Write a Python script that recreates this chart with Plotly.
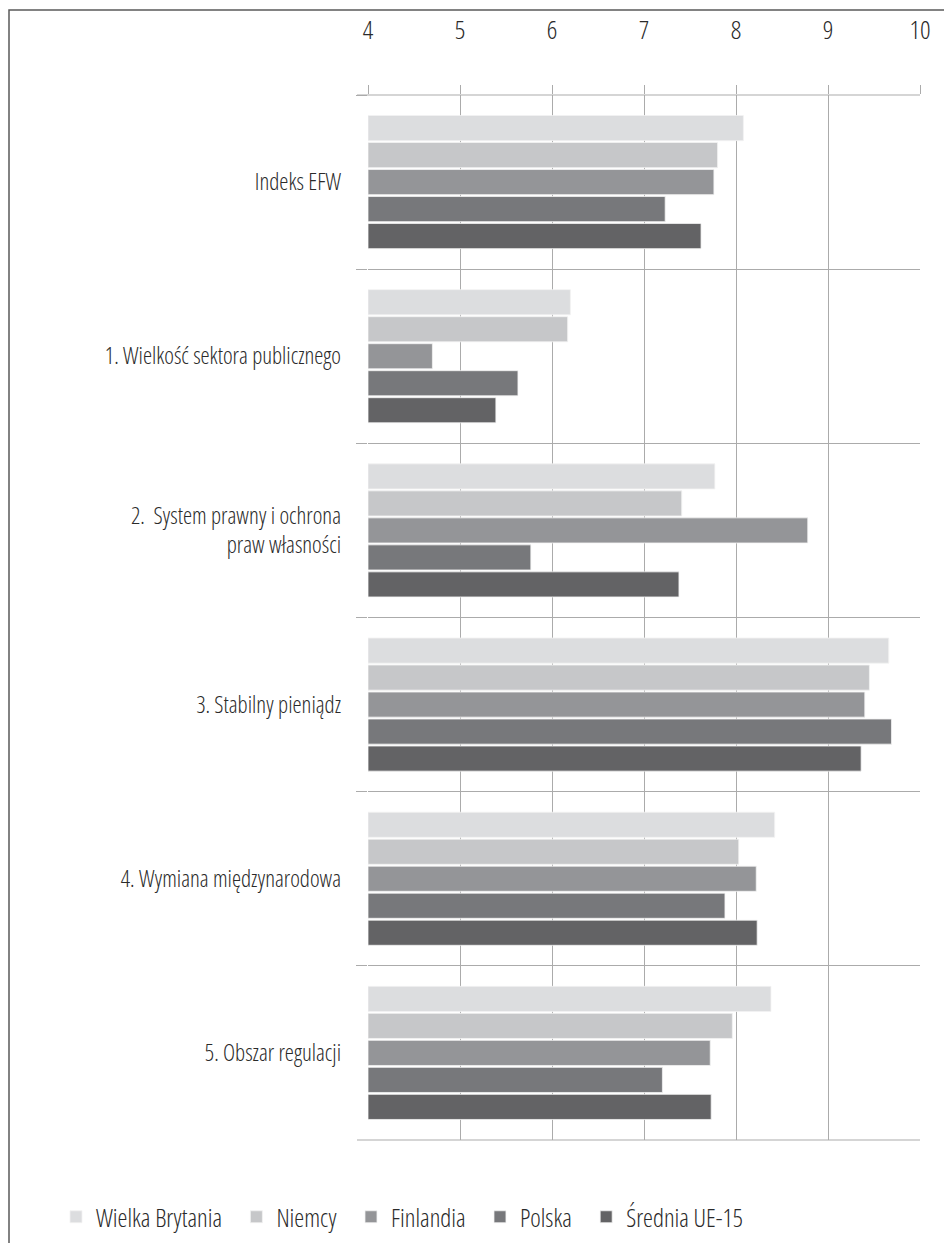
import plotly.graph_objects as go

# Categories (top to bottom) and series values
categories = [
    "Indeks EFW",
    "1. Wielkość sektora publicznego",
    "2.\u00a0 System prawny i ochrona<br>praw własności",
    "3. Stabilny pieniądz",
    "4. Wymiana międzynarodowa",
    "5. Obszar regulacji",
]
series_names = ["Wielka Brytania", "Niemcy", "Finlandia", "Polska", "Średnia UE-15"]
wielka_brytania = [8.08, 6.20, 7.77, 9.66, 8.42, 8.38]
niemcy = [7.80, 6.17, 7.41, 9.45, 8.03, 7.96]
finlandia = [7.76, 4.70, 8.78, 9.40, 8.22, 7.72]
polska = [7.23, 5.63, 5.77, 9.69, 7.88, 7.20]
srednia_ue15 = [7.62, 5.39, 7.38, 9.36, 8.23, 7.73]
series_values = [wielka_brytania, niemcy, finlandia, polska, srednia_ue15]
series_colors = ["#dcdddf", "#c6c7c9", "#949598", "#77787b", "#636365"]

x_ticks = [4, 5, 6, 7, 8, 9, 10]
AXIS_START = 4

FONT = "Open Sans, Noto Sans, sans-serif"
TEXT = "#2a2a2a"
GRID = "#ababab"
LEGEND_PAD = "\u00a0\u00a0"  # extra room after each legend entry

fig = go.Figure()
for name, vals, col in zip(series_names, series_values, series_colors):
    # bars grow from the left end of the axis
    fig.add_trace(go.Bar(
        y=categories, x=[v - AXIS_START for v in vals], base=AXIS_START,
        name=name + LEGEND_PAD, orientation="h",
        marker=dict(color=col, line=dict(color="#f2f2f2", width=0.8)),
        hovertemplate="%{y}: %{x}<extra>" + name + "</extra>",
    ))

W, H = 944, 1243
ml, mr, mt, mb = 368, 24, 95, 103
pw, ph = W - ml - mr, H - mt - mb

def px_x(p):
    return (p - ml) / pw

def px_y(p):
    return (H - mb - p) / ph

fig.update_layout(
    width=W, height=H,
    margin=dict(l=ml, r=mr, t=mt, b=mb, pad=0, autoexpand=False),
    paper_bgcolor="white", plot_bgcolor="white",
    barmode="group", bargap=0.225, bargroupgap=0.07,
    font=dict(family=FONT, size=22, color=TEXT, weight=300),
    showlegend=True,
    legend=dict(
        orientation="h", x=px_x(56), xanchor="left",
        y=px_y(1217), yanchor="middle",
        font=dict(family=FONT, size=25, color=TEXT, weight=300),
        itemwidth=30, traceorder="normal",
    ),
    xaxis=dict(
        side="top", range=[4, 10], tickvals=x_ticks, ticktext=[str(t) for t in x_ticks],
        showgrid=True, gridcolor=GRID, gridwidth=1.2, zeroline=False,
        ticks="outside", ticklen=9, tickcolor=GRID, tickwidth=1.2,
        ticklabelstandoff=36, showline=False, automargin=False,
        tickfont=dict(family=FONT, size=26, color=TEXT, weight=300),
    ),
    yaxis=dict(
        type="category", range=[5.5, -0.5], tickson="boundaries",
        showgrid=True, gridcolor=GRID, gridwidth=1.2,
        ticks="outside", ticklen=11, tickcolor=GRID, tickwidth=1.2,
        ticklabelstandoff=26, showline=False, zeroline=False, automargin=False,
        tickfont=dict(family=FONT, size=23, color=TEXT, weight=300),
    ),
    shapes=[
        # frame around the figure
        dict(type="rect", xref="paper", yref="paper",
             x0=px_x(9), x1=px_x(960), y0=px_y(1260), y1=px_y(10),
             line=dict(color="#5a5a5a", width=1.5), fillcolor="rgba(0,0,0,0)", layer="below"),
        # outer category boundaries
        dict(type="line", xref="paper", yref="paper", x0=px_x(357), x1=1, y0=1, y1=1,
             line=dict(color=GRID, width=1.2)),
        dict(type="line", xref="paper", yref="paper", x0=px_x(357), x1=1, y0=0, y1=0,
             line=dict(color=GRID, width=1.2)),
    ],
)

# Condensed face for all chart text (including plotly's text-measuring svg).
# The legend is re-laid out with a marginally different font size so that its
# entries are measured again with the condensed face instead of cached widths.
post = """
var st = document.createElement('style');
st.textContent = 'svg text { font-stretch: 75% !important; }';
document.head.appendChild(st);
var gd = document.getElementById('{plot_id}');
Plotly.relayout(gd, {'legend.font.size': 25.001});
"""

fig.write_html("out.html", post_script=post)
